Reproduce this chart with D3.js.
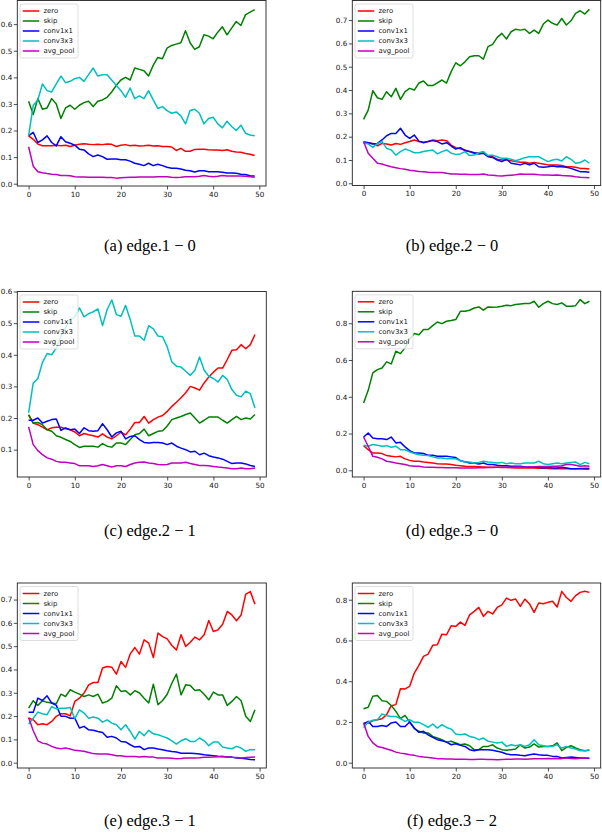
<!DOCTYPE html>
<html>
<head>
<meta charset="utf-8">
<script src="https://cdn.jsdelivr.net/npm/d3@7"></script>
<style>
  html, body { margin: 0; padding: 0; background: #fff; }
  svg { display: block; }
</style>
</head>
<body>
<svg id="chart" width="602" height="840"></svg>
<script>
// operations shown in every panel, in plotting order
const opNames = ['zero', 'skip', 'conv1x1', 'conv3x3', 'avg_pool']
const opColors = ['#ff0000', '#008000', '#0000ff', '#00bfbf', '#bf00bf']
const epochs = d3.range(50)
const xTickValues = [0, 10, 20, 30, 40, 50]

// (a) edge.1 - 0
const e10Zero = [0.18, 0.167, 0.149, 0.143, 0.143, 0.143, 0.145, 0.143, 0.145, 0.14, 0.145, 0.148, 0.15, 0.148, 0.147, 0.148, 0.147, 0.149, 0.148, 0.14, 0.145, 0.147, 0.143, 0.145, 0.142, 0.143, 0.145, 0.142, 0.143, 0.14, 0.14, 0.138, 0.125, 0.133, 0.122, 0.122, 0.129, 0.13, 0.13, 0.128, 0.127, 0.127, 0.125, 0.128, 0.122, 0.119, 0.118, 0.114, 0.111, 0.106]
const e10Skip = [0.31, 0.26, 0.32, 0.28, 0.285, 0.32, 0.30, 0.245, 0.285, 0.295, 0.28, 0.295, 0.305, 0.31, 0.29, 0.31, 0.315, 0.325, 0.345, 0.37, 0.39, 0.40, 0.39, 0.435, 0.43, 0.425, 0.405, 0.445, 0.475, 0.47, 0.51, 0.52, 0.525, 0.53, 0.575, 0.53, 0.505, 0.515, 0.56, 0.555, 0.545, 0.57, 0.59, 0.56, 0.585, 0.61, 0.595, 0.635, 0.645, 0.655]
const e10Conv1 = [0.18, 0.193, 0.155, 0.165, 0.18, 0.155, 0.142, 0.177, 0.158, 0.152, 0.145, 0.13, 0.127, 0.112, 0.102, 0.108, 0.102, 0.092, 0.093, 0.093, 0.09, 0.09, 0.085, 0.077, 0.073, 0.068, 0.077, 0.068, 0.073, 0.068, 0.062, 0.058, 0.058, 0.055, 0.051, 0.049, 0.044, 0.049, 0.049, 0.045, 0.045, 0.045, 0.043, 0.04, 0.04, 0.039, 0.036, 0.035, 0.03, 0.029]
const e10Conv3 = [0.18, 0.295, 0.315, 0.375, 0.35, 0.345, 0.375, 0.405, 0.38, 0.385, 0.395, 0.40, 0.385, 0.41, 0.435, 0.405, 0.41, 0.41, 0.39, 0.37, 0.35, 0.325, 0.36, 0.32, 0.33, 0.32, 0.35, 0.315, 0.283, 0.29, 0.275, 0.265, 0.27, 0.255, 0.225, 0.275, 0.28, 0.265, 0.225, 0.245, 0.25, 0.225, 0.21, 0.235, 0.215, 0.20, 0.22, 0.19, 0.183, 0.18]
const e10Pool = [0.139, 0.066, 0.045, 0.041, 0.038, 0.036, 0.035, 0.031, 0.031, 0.03, 0.026, 0.025, 0.025, 0.024, 0.024, 0.024, 0.024, 0.023, 0.023, 0.021, 0.022, 0.023, 0.024, 0.024, 0.025, 0.025, 0.025, 0.025, 0.026, 0.026, 0.026, 0.024, 0.023, 0.024, 0.026, 0.026, 0.026, 0.028, 0.031, 0.028, 0.026, 0.028, 0.031, 0.029, 0.029, 0.029, 0.029, 0.028, 0.026, 0.024]

// (b) edge.2 - 0
const e20Zero = [0.179, 0.174, 0.171, 0.161, 0.171, 0.169, 0.164, 0.171, 0.167, 0.174, 0.179, 0.186, 0.179, 0.176, 0.179, 0.186, 0.183, 0.186, 0.183, 0.164, 0.153, 0.148, 0.143, 0.136, 0.129, 0.131, 0.129, 0.117, 0.114, 0.103, 0.10, 0.10, 0.097, 0.093, 0.09, 0.09, 0.086, 0.089, 0.086, 0.083, 0.079, 0.079, 0.079, 0.076, 0.071, 0.071, 0.069, 0.064, 0.064, 0.061]
const e20Skip = [0.274, 0.314, 0.397, 0.367, 0.36, 0.393, 0.371, 0.407, 0.36, 0.393, 0.407, 0.40, 0.43, 0.439, 0.419, 0.419, 0.431, 0.443, 0.43, 0.479, 0.517, 0.504, 0.521, 0.543, 0.547, 0.547, 0.533, 0.586, 0.596, 0.626, 0.643, 0.619, 0.65, 0.661, 0.657, 0.661, 0.643, 0.657, 0.643, 0.683, 0.70, 0.686, 0.679, 0.707, 0.679, 0.697, 0.729, 0.74, 0.726, 0.746]
const e20Conv1 = [0.174, 0.174, 0.169, 0.171, 0.186, 0.204, 0.214, 0.214, 0.236, 0.207, 0.193, 0.207, 0.181, 0.174, 0.179, 0.183, 0.179, 0.169, 0.174, 0.16, 0.147, 0.153, 0.14, 0.136, 0.131, 0.126, 0.129, 0.114, 0.111, 0.10, 0.093, 0.103, 0.086, 0.083, 0.079, 0.086, 0.079, 0.086, 0.071, 0.069, 0.071, 0.074, 0.071, 0.071, 0.069, 0.064, 0.057, 0.05, 0.05, 0.047]
const e20Conv3 = [0.174, 0.169, 0.154, 0.171, 0.179, 0.15, 0.143, 0.121, 0.136, 0.147, 0.14, 0.131, 0.131, 0.136, 0.14, 0.143, 0.126, 0.136, 0.143, 0.129, 0.124, 0.126, 0.136, 0.119, 0.121, 0.131, 0.136, 0.119, 0.121, 0.114, 0.107, 0.107, 0.103, 0.097, 0.103, 0.11, 0.114, 0.114, 0.114, 0.104, 0.093, 0.10, 0.103, 0.096, 0.114, 0.103, 0.086, 0.089, 0.10, 0.086]
const e20Pool = [0.179, 0.129, 0.107, 0.086, 0.083, 0.076, 0.071, 0.067, 0.063, 0.06, 0.056, 0.054, 0.051, 0.05, 0.047, 0.046, 0.046, 0.046, 0.043, 0.04, 0.04, 0.039, 0.039, 0.038, 0.038, 0.038, 0.04, 0.036, 0.035, 0.032, 0.031, 0.033, 0.035, 0.037, 0.04, 0.039, 0.039, 0.039, 0.037, 0.036, 0.036, 0.035, 0.036, 0.033, 0.032, 0.031, 0.028, 0.026, 0.025, 0.024]

// (c) edge.2 - 1
const e21Zero = [0.209, 0.184, 0.179, 0.171, 0.163, 0.169, 0.171, 0.171, 0.166, 0.163, 0.156, 0.144, 0.151, 0.147, 0.144, 0.14, 0.15, 0.14, 0.134, 0.144, 0.155, 0.147, 0.165, 0.186, 0.186, 0.205, 0.184, 0.195, 0.203, 0.208, 0.221, 0.237, 0.25, 0.264, 0.28, 0.30, 0.295, 0.288, 0.311, 0.33, 0.345, 0.358, 0.358, 0.385, 0.414, 0.416, 0.432, 0.419, 0.432, 0.464]
const e21Skip = [0.211, 0.184, 0.186, 0.179, 0.163, 0.158, 0.144, 0.139, 0.132, 0.126, 0.116, 0.107, 0.111, 0.111, 0.111, 0.108, 0.119, 0.111, 0.108, 0.121, 0.121, 0.116, 0.132, 0.147, 0.151, 0.165, 0.144, 0.151, 0.158, 0.16, 0.175, 0.195, 0.20, 0.205, 0.211, 0.216, 0.20, 0.184, 0.193, 0.203, 0.203, 0.203, 0.193, 0.184, 0.195, 0.205, 0.195, 0.20, 0.197, 0.211]
const e21Conv1 = [0.193, 0.193, 0.20, 0.184, 0.19, 0.195, 0.197, 0.161, 0.169, 0.163, 0.165, 0.151, 0.169, 0.16, 0.158, 0.16, 0.182, 0.163, 0.14, 0.153, 0.158, 0.134, 0.142, 0.144, 0.132, 0.123, 0.121, 0.123, 0.123, 0.121, 0.116, 0.121, 0.111, 0.105, 0.10, 0.093, 0.095, 0.084, 0.089, 0.081, 0.077, 0.074, 0.07, 0.063, 0.056, 0.058, 0.058, 0.055, 0.05, 0.047]
const e21Conv3 = [0.216, 0.311, 0.325, 0.376, 0.404, 0.40, 0.422, 0.459, 0.485, 0.511, 0.52, 0.548, 0.52, 0.53, 0.536, 0.545, 0.492, 0.543, 0.573, 0.527, 0.522, 0.556, 0.511, 0.459, 0.459, 0.446, 0.492, 0.482, 0.459, 0.457, 0.425, 0.377, 0.364, 0.361, 0.348, 0.335, 0.351, 0.393, 0.351, 0.332, 0.325, 0.314, 0.335, 0.322, 0.29, 0.272, 0.267, 0.285, 0.277, 0.232]
const e21Pool = [0.172, 0.116, 0.097, 0.084, 0.074, 0.07, 0.063, 0.06, 0.06, 0.058, 0.056, 0.049, 0.049, 0.049, 0.047, 0.049, 0.053, 0.049, 0.045, 0.049, 0.049, 0.047, 0.053, 0.058, 0.06, 0.061, 0.058, 0.056, 0.053, 0.052, 0.053, 0.058, 0.058, 0.058, 0.06, 0.056, 0.053, 0.05, 0.05, 0.049, 0.047, 0.045, 0.044, 0.042, 0.04, 0.04, 0.042, 0.04, 0.04, 0.042]

// (d) edge.3 - 0
const e30Zero = [0.134, 0.112, 0.094, 0.094, 0.091, 0.08, 0.076, 0.073, 0.076, 0.062, 0.054, 0.049, 0.049, 0.045, 0.043, 0.04, 0.036, 0.034, 0.034, 0.031, 0.027, 0.025, 0.022, 0.021, 0.02, 0.019, 0.018, 0.017, 0.016, 0.016, 0.015, 0.015, 0.014, 0.013, 0.013, 0.013, 0.012, 0.012, 0.011, 0.011, 0.01, 0.009, 0.009, 0.009, 0.01, 0.009, 0.009, 0.01, 0.011, 0.011]
const e30Skip = [0.366, 0.435, 0.53, 0.548, 0.557, 0.59, 0.579, 0.648, 0.635, 0.666, 0.715, 0.744, 0.738, 0.766, 0.766, 0.787, 0.807, 0.798, 0.811, 0.815, 0.82, 0.865, 0.865, 0.871, 0.883, 0.889, 0.871, 0.889, 0.887, 0.889, 0.893, 0.898, 0.896, 0.902, 0.905, 0.907, 0.907, 0.92, 0.887, 0.907, 0.92, 0.907, 0.902, 0.911, 0.893, 0.893, 0.896, 0.929, 0.907, 0.92]
const e30Conv1 = [0.181, 0.203, 0.176, 0.172, 0.172, 0.167, 0.181, 0.149, 0.152, 0.127, 0.107, 0.094, 0.094, 0.091, 0.082, 0.082, 0.076, 0.076, 0.076, 0.073, 0.069, 0.052, 0.047, 0.04, 0.04, 0.034, 0.04, 0.031, 0.031, 0.027, 0.025, 0.025, 0.022, 0.022, 0.022, 0.018, 0.018, 0.016, 0.016, 0.013, 0.016, 0.013, 0.013, 0.016, 0.013, 0.009, 0.009, 0.009, 0.007, 0.007]
const e30Conv3 = [0.136, 0.131, 0.14, 0.136, 0.131, 0.134, 0.125, 0.131, 0.112, 0.112, 0.10, 0.091, 0.085, 0.082, 0.08, 0.073, 0.067, 0.067, 0.063, 0.063, 0.063, 0.052, 0.045, 0.045, 0.04, 0.043, 0.049, 0.045, 0.043, 0.04, 0.043, 0.036, 0.04, 0.036, 0.036, 0.04, 0.04, 0.04, 0.049, 0.036, 0.031, 0.036, 0.04, 0.036, 0.04, 0.043, 0.045, 0.031, 0.043, 0.036]
const e30Pool = [0.181, 0.131, 0.076, 0.071, 0.062, 0.049, 0.045, 0.04, 0.036, 0.031, 0.025, 0.022, 0.022, 0.018, 0.016, 0.016, 0.015, 0.015, 0.014, 0.014, 0.014, 0.013, 0.013, 0.013, 0.013, 0.014, 0.014, 0.015, 0.015, 0.016, 0.016, 0.017, 0.017, 0.018, 0.018, 0.017, 0.018, 0.019, 0.02, 0.02, 0.021, 0.022, 0.022, 0.025, 0.031, 0.031, 0.027, 0.022, 0.025, 0.022]

// (e) edge.3 - 1
const e31Zero = [0.191, 0.184, 0.163, 0.167, 0.163, 0.177, 0.199, 0.21, 0.21, 0.201, 0.263, 0.277, 0.299, 0.334, 0.344, 0.344, 0.406, 0.413, 0.41, 0.38, 0.434, 0.409, 0.467, 0.494, 0.466, 0.527, 0.513, 0.451, 0.556, 0.541, 0.531, 0.503, 0.484, 0.549, 0.499, 0.517, 0.539, 0.527, 0.549, 0.61, 0.563, 0.57, 0.594, 0.649, 0.634, 0.609, 0.634, 0.723, 0.734, 0.68]
const e31Skip = [0.234, 0.266, 0.246, 0.266, 0.259, 0.256, 0.253, 0.294, 0.284, 0.313, 0.303, 0.294, 0.284, 0.291, 0.284, 0.294, 0.256, 0.263, 0.277, 0.33, 0.306, 0.309, 0.291, 0.309, 0.299, 0.277, 0.256, 0.337, 0.249, 0.267, 0.294, 0.341, 0.38, 0.291, 0.334, 0.331, 0.31, 0.313, 0.294, 0.27, 0.303, 0.291, 0.291, 0.246, 0.263, 0.284, 0.266, 0.199, 0.177, 0.227]
const e31Conv1 = [0.217, 0.216, 0.277, 0.267, 0.287, 0.256, 0.246, 0.199, 0.199, 0.191, 0.191, 0.149, 0.156, 0.141, 0.139, 0.134, 0.13, 0.109, 0.113, 0.106, 0.091, 0.089, 0.077, 0.067, 0.07, 0.056, 0.063, 0.063, 0.059, 0.056, 0.051, 0.048, 0.046, 0.041, 0.041, 0.041, 0.039, 0.037, 0.034, 0.032, 0.03, 0.028, 0.027, 0.025, 0.024, 0.02, 0.019, 0.017, 0.014, 0.013]
const e31Conv3 = [0.166, 0.191, 0.217, 0.21, 0.206, 0.241, 0.231, 0.234, 0.234, 0.237, 0.189, 0.227, 0.213, 0.191, 0.196, 0.191, 0.174, 0.184, 0.17, 0.163, 0.141, 0.163, 0.134, 0.101, 0.134, 0.116, 0.139, 0.124, 0.12, 0.113, 0.106, 0.094, 0.08, 0.094, 0.103, 0.091, 0.091, 0.106, 0.094, 0.073, 0.089, 0.089, 0.067, 0.063, 0.06, 0.07, 0.063, 0.049, 0.056, 0.056]
const e31Pool = [0.194, 0.137, 0.094, 0.084, 0.08, 0.07, 0.063, 0.06, 0.063, 0.059, 0.053, 0.051, 0.049, 0.044, 0.039, 0.037, 0.037, 0.037, 0.034, 0.03, 0.03, 0.027, 0.027, 0.027, 0.024, 0.027, 0.024, 0.024, 0.02, 0.02, 0.02, 0.019, 0.017, 0.018, 0.02, 0.02, 0.02, 0.021, 0.023, 0.023, 0.024, 0.026, 0.027, 0.025, 0.023, 0.022, 0.02, 0.022, 0.023, 0.024]

// (f) edge.3 - 2
const e32Zero = [0.195, 0.195, 0.206, 0.211, 0.216, 0.236, 0.28, 0.285, 0.363, 0.362, 0.375, 0.44, 0.478, 0.522, 0.533, 0.576, 0.579, 0.631, 0.628, 0.672, 0.669, 0.69, 0.674, 0.726, 0.743, 0.762, 0.718, 0.743, 0.73, 0.762, 0.775, 0.808, 0.797, 0.803, 0.767, 0.803, 0.779, 0.738, 0.784, 0.78, 0.787, 0.792, 0.764, 0.841, 0.811, 0.792, 0.82, 0.836, 0.841, 0.836]
const e32Skip = [0.265, 0.272, 0.326, 0.33, 0.304, 0.301, 0.281, 0.252, 0.216, 0.232, 0.20, 0.167, 0.154, 0.146, 0.146, 0.129, 0.121, 0.113, 0.101, 0.105, 0.097, 0.088, 0.092, 0.083, 0.064, 0.064, 0.08, 0.08, 0.088, 0.072, 0.064, 0.061, 0.064, 0.067, 0.088, 0.072, 0.077, 0.092, 0.077, 0.08, 0.08, 0.083, 0.097, 0.059, 0.075, 0.083, 0.072, 0.064, 0.059, 0.061]
const e32Conv1 = [0.19, 0.203, 0.178, 0.178, 0.183, 0.178, 0.195, 0.20, 0.178, 0.178, 0.20, 0.17, 0.149, 0.154, 0.137, 0.124, 0.113, 0.108, 0.101, 0.088, 0.093, 0.085, 0.08, 0.064, 0.059, 0.064, 0.064, 0.064, 0.061, 0.056, 0.051, 0.043, 0.039, 0.039, 0.036, 0.034, 0.039, 0.043, 0.039, 0.036, 0.036, 0.031, 0.031, 0.023, 0.026, 0.028, 0.026, 0.023, 0.023, 0.02]
const e32Conv3 = [0.173, 0.20, 0.208, 0.211, 0.239, 0.231, 0.227, 0.227, 0.216, 0.203, 0.211, 0.198, 0.198, 0.187, 0.173, 0.19, 0.17, 0.187, 0.173, 0.165, 0.141, 0.137, 0.141, 0.129, 0.124, 0.113, 0.121, 0.105, 0.101, 0.097, 0.101, 0.08, 0.088, 0.083, 0.088, 0.08, 0.088, 0.113, 0.088, 0.083, 0.08, 0.08, 0.088, 0.072, 0.08, 0.072, 0.067, 0.059, 0.059, 0.064]
const e32Pool = [0.195, 0.129, 0.097, 0.08, 0.075, 0.067, 0.061, 0.052, 0.047, 0.044, 0.039, 0.036, 0.031, 0.028, 0.026, 0.023, 0.02, 0.02, 0.018, 0.018, 0.017, 0.017, 0.017, 0.016, 0.016, 0.017, 0.017, 0.016, 0.016, 0.015, 0.016, 0.017, 0.017, 0.018, 0.018, 0.017, 0.018, 0.019, 0.02, 0.02, 0.021, 0.02, 0.021, 0.02, 0.023, 0.021, 0.02, 0.022, 0.023, 0.023]

const captions = ['(a) edge.1 \u2212 0', '(b) edge.2 \u2212 0', '(c) edge.2 \u2212 1', '(d) edge.3 \u2212 0', '(e) edge.3 \u2212 1', '(f) edge.3 \u2212 2']
const panelSeries = [
  [e10Zero, e10Skip, e10Conv1, e10Conv3, e10Pool],
  [e20Zero, e20Skip, e20Conv1, e20Conv3, e20Pool],
  [e21Zero, e21Skip, e21Conv1, e21Conv3, e21Pool],
  [e30Zero, e30Skip, e30Conv1, e30Conv3, e30Pool],
  [e31Zero, e31Skip, e31Conv1, e31Conv3, e31Pool],
  [e32Zero, e32Skip, e32Conv1, e32Conv3, e32Pool],
]
const panelYTicks = [
  [0, 0.1, 0.2, 0.3, 0.4, 0.5, 0.6],
  [0, 0.1, 0.2, 0.3, 0.4, 0.5, 0.6, 0.7],
  [0.1, 0.2, 0.3, 0.4, 0.5, 0.6],
  [0, 0.2, 0.4, 0.6, 0.8],
  [0, 0.1, 0.2, 0.3, 0.4, 0.5, 0.6, 0.7],
  [0, 0.2, 0.4, 0.6, 0.8],
]

// axes boxes (pixels) and y limits of each subplot
const layout = [
  { left: 17.3, right: 266, top: 0.5, bottom: 186, ylim: [-0.0086, 0.689], capX: 150, capY: 251 },
  { left: 352.3, right: 600.7, top: 0.5, bottom: 185.5, ylim: [-0.0094, 0.784], capX: 452, capY: 251 },
  { left: 17.3, right: 266.3, top: 291.5, bottom: 477, ylim: [0.0136, 0.6], capX: 150, capY: 536 },
  { left: 352.3, right: 600.7, top: 291.3, bottom: 477, ylim: [-0.0365, 0.974], capX: 452, capY: 536 },
  { left: 17.3, right: 266.3, top: 583, bottom: 768, ylim: [-0.0227, 0.771], capX: 150, capY: 826 },
  { left: 352.3, right: 600.7, top: 583, bottom: 768, ylim: [-0.026, 0.882], capX: 452, capY: 826 },
]

const svg = d3.select('#chart')
svg.append('rect').attr('width', 602).attr('height', 840).attr('fill', '#fff')

const tickFont = 'DejaVu Sans, sans-serif'

layout.forEach((box, p) => {
  const x = d3.scaleLinear().domain([-2.45, 51.45]).range([box.left, box.right])
  const y = d3.scaleLinear().domain(box.ylim).range([box.bottom, box.top])
  const g = svg.append('g').attr('id', 'panel' + p)

  // x axis
  const xAxis = g.append('g')
    .attr('transform', `translate(0,${box.bottom})`)
    .call(d3.axisBottom(x).tickValues(xTickValues).tickSize(3.5).tickPadding(2).tickSizeOuter(0))
  // y axis
  const yAxis = g.append('g')
    .attr('transform', `translate(${box.left},0)`)
    .call(d3.axisLeft(y).tickValues(panelYTicks[p]).tickFormat(d3.format('.1f')).tickSize(3.5).tickPadding(1.5).tickSizeOuter(0))

  ;[xAxis, yAxis].forEach((a) => {
    a.select('.domain').remove()
    a.selectAll('.tick line').attr('stroke', '#222').attr('stroke-width', 0.8)
    a.selectAll('.tick text')
      .attr('font-family', tickFont)
      .attr('font-size', 7.2)
      .attr('fill', '#111')
  })

  // series
  const line = d3.line()
    .x((d, i) => x(epochs[i]))
    .y((d) => y(d))

  g.append('g')
    .attr('id', 'lines' + p)
    .selectAll('path')
    .data(panelSeries[p])
    .join('path')
    .attr('d', line)
    .attr('fill', 'none')
    .attr('stroke', (d, i) => opColors[i])
    .attr('stroke-width', 1.5)
    .attr('stroke-linejoin', 'round')

  // frame
  g.append('rect')
    .attr('x', box.left)
    .attr('y', box.top)
    .attr('width', box.right - box.left)
    .attr('height', box.bottom - box.top)
    .attr('fill', 'none')
    .attr('stroke', '#222')
    .attr('stroke-width', 0.9)

  // legend
  const lg = g.append('g')
    .attr('transform', `translate(${box.left + 2.7},${box.top + 3.5})`)
  lg.append('rect')
    .attr('width', 58)
    .attr('height', 54)
    .attr('rx', 2)
    .attr('fill', '#fff')
    .attr('fill-opacity', 0.8)
    .attr('stroke', '#d6d6d6')
    .attr('stroke-width', 0.8)
  const items = lg.selectAll('g.item')
    .data(opNames)
    .join('g')
    .attr('class', 'item')
    .attr('transform', (d, i) => `translate(0,${7 + i * 10})`)
  items.append('line')
    .attr('x1', 2.8).attr('x2', 19.3)
    .attr('stroke', (d, i) => opColors[i])
    .attr('stroke-width', 1.5)
  items.append('text')
    .attr('x', 23.5)
    .attr('dy', '0.35em')
    .attr('font-family', tickFont)
    .attr('font-size', 6.9)
    .attr('fill', '#111')
    .text((d) => d)

  // caption
  svg.append('text')
    .attr('x', box.capX)
    .attr('y', box.capY)
    .attr('text-anchor', 'middle')
    .attr('font-family', 'Liberation Serif, Times New Roman, serif')
    .attr('font-size', 16.5)
    .attr('fill', '#000')
    .text(captions[p])
})
</script>
</body>
</html>
